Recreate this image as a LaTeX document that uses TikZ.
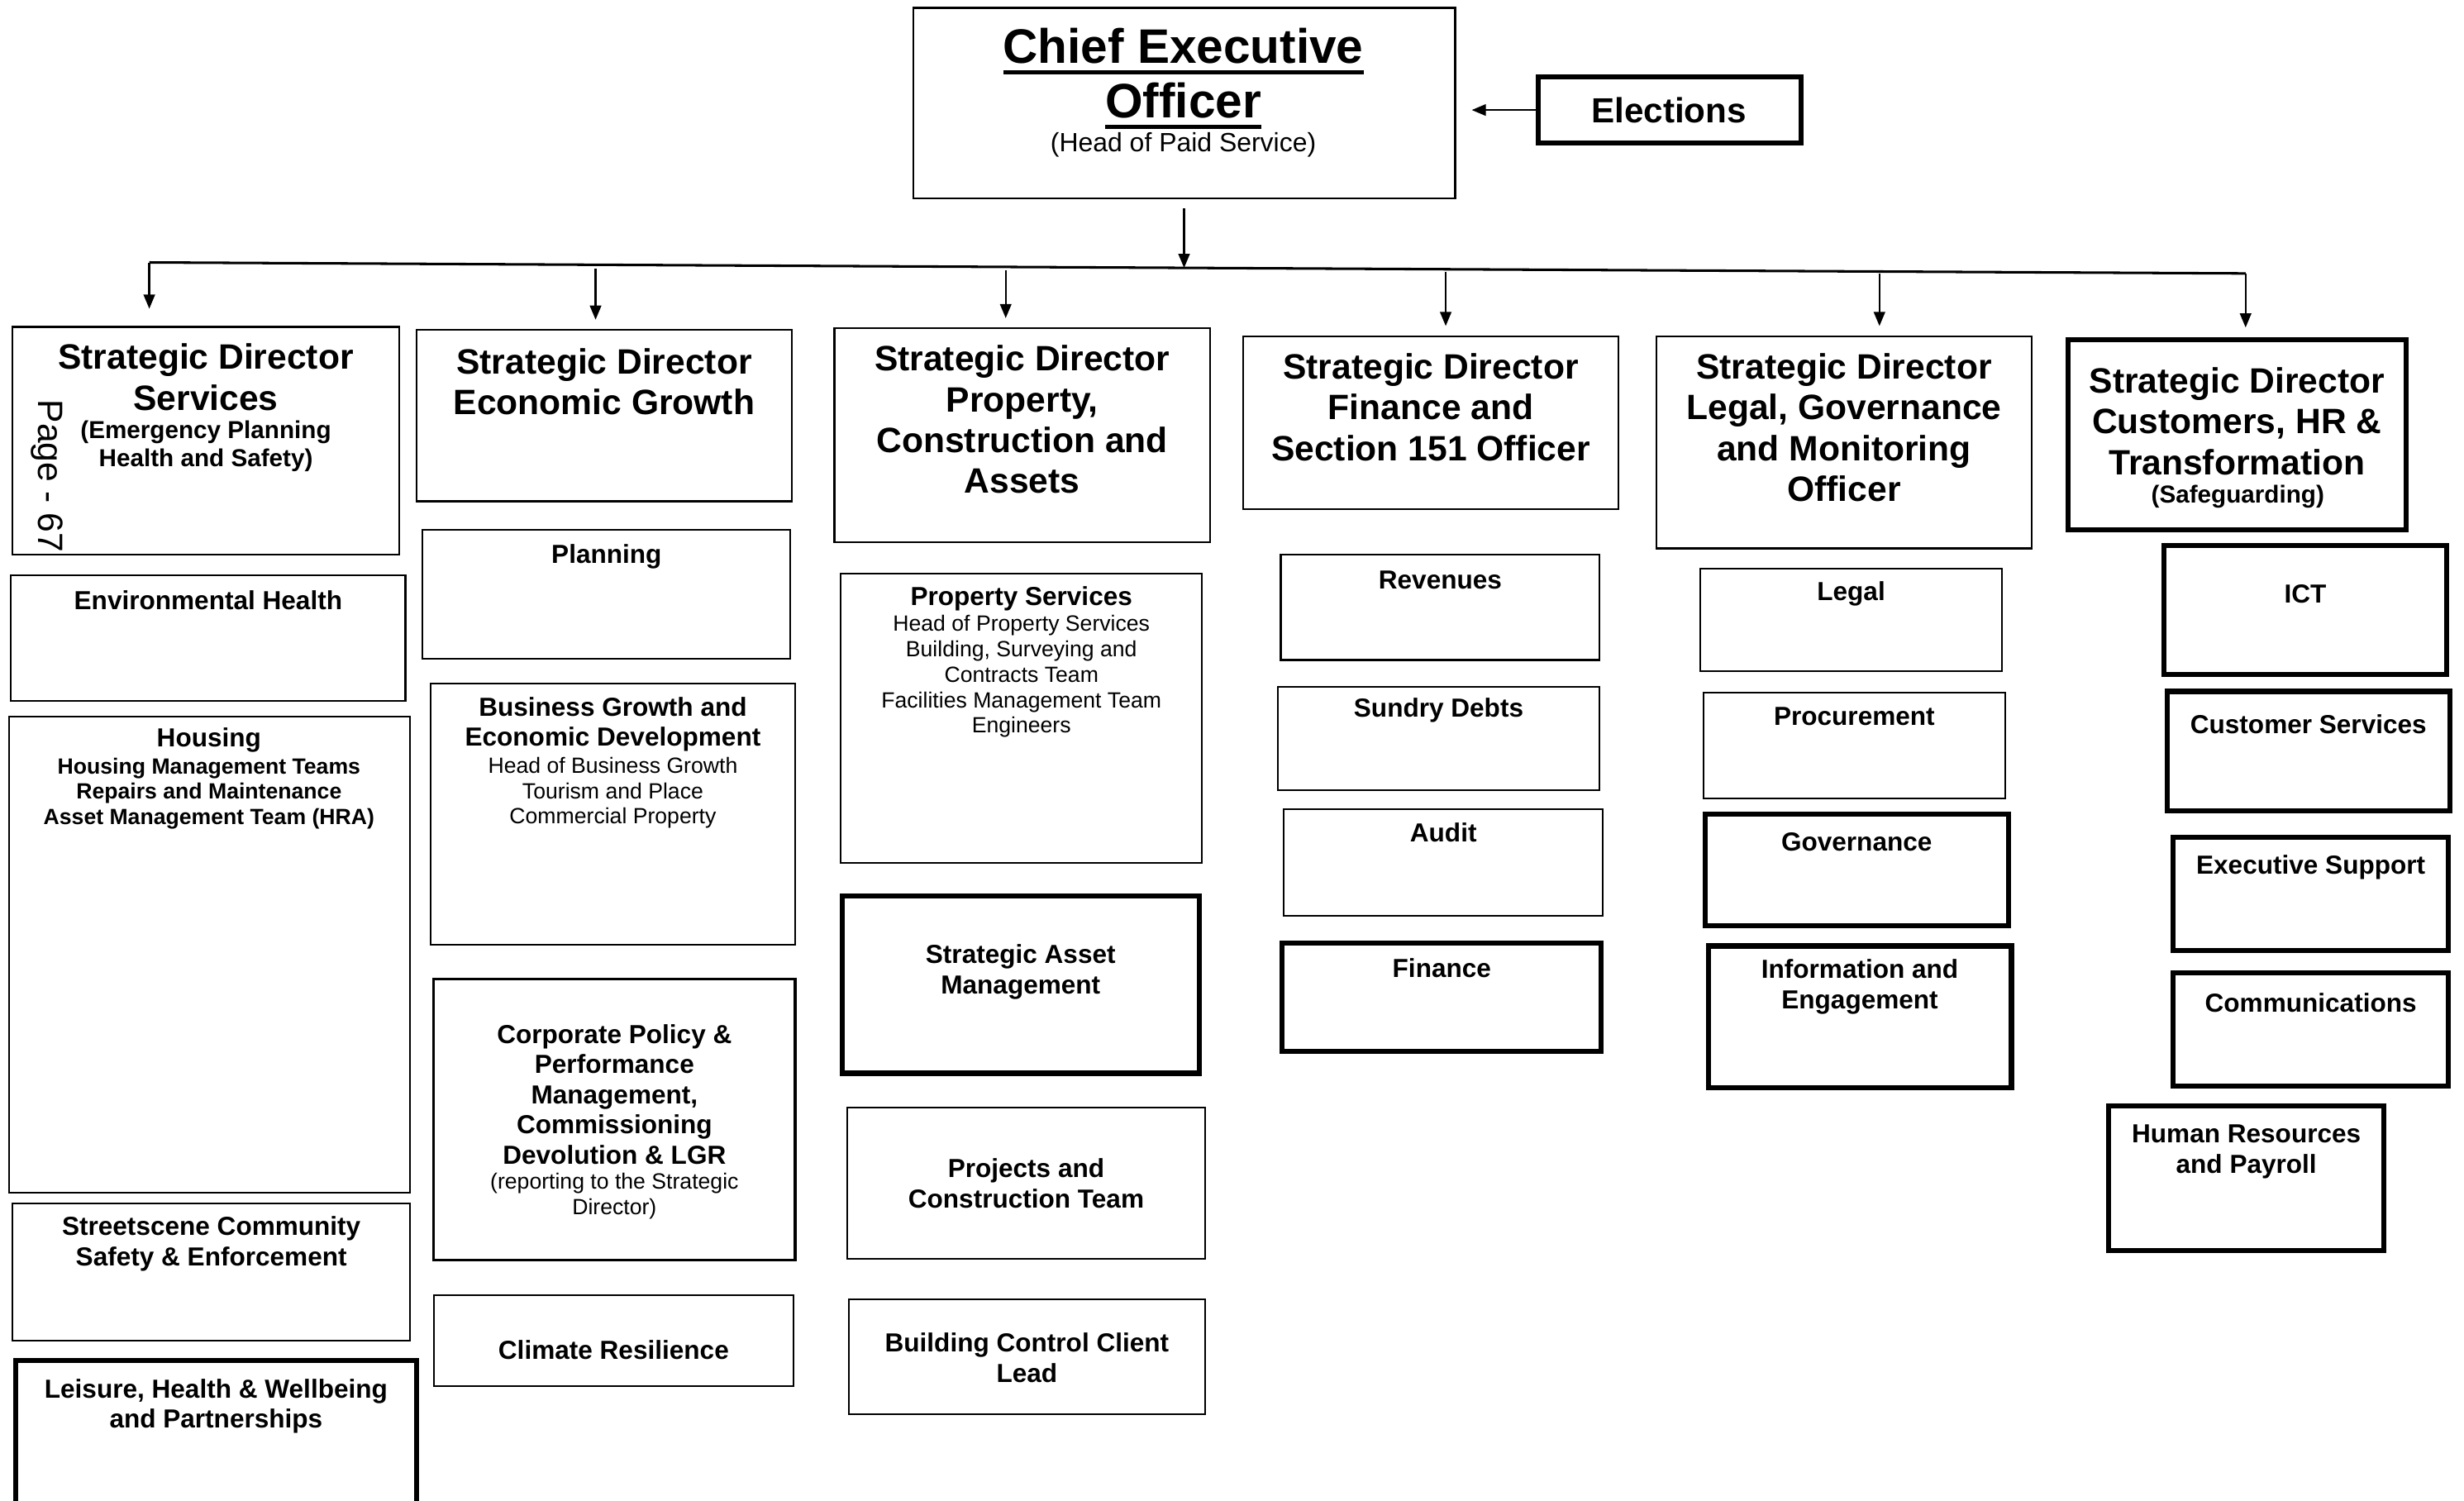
\documentclass[tikz,border=0pt]{standalone}
\usepackage{fontspec}
\setmainfont{Liberation Sans}
\usetikzlibrary{arrows.meta, fit}
\newcommand{\thickul}[1]{\setbox0\hbox{#1}\rlap{\vrule height -2.2pt depth 3.6pt width \wd0}\box0}

\begin{document}
\begin{tikzpicture}[x=0.5pt, y=-0.5pt,
    box/.style={draw, line width=0.55pt, inner sep=0pt},
    mid/.style={box, line width=0.9pt},
    heavy/.style={box, line width=1.6pt},
    arr/.style={line width=0.6pt, -{Triangle[length=4.5pt, width=3.6pt]}},
    ceotxt/.style={font=\bfseries\fontsize{15.4}{17.5}\selectfont, align=center, inner sep=0pt},
    sdtxt/.style={font=\bfseries\fontsize{11.2}{13}\selectfont, align=center, inner sep=0pt},
    unittxt/.style={font=\bfseries\fontsize{8.3}{9.6}\selectfont, align=center, inner sep=0pt},
    notetxt/.style={font=\bfseries\fontsize{7.8}{9}\selectfont, align=center, inner sep=0pt},
    teamtxt/.style={font=\bfseries\fontsize{7}{8}\selectfont, align=center, inner sep=0pt},
    roletxt/.style={font=\fontsize{7}{8.1}\selectfont, align=center, inner sep=0pt}]
  \useasboundingbox (0,0) rectangle (1568,955);

  % top of the chart
  \node[box, fit={(581,5) (926,126)}] (ceo) {};
  \node[ceotxt] (ceo-t) at (753,50) {\thickul{Chief Executive}\\\thickul{Officer}};
  \node[font=\fontsize{8.4}{10}\selectfont, inner sep=0pt] (ceo-s) at (753,92) {(Head of Paid Service)};
  \node[heavy, fit={(979,49) (1146,91)}] (elect) {};
  \node[font=\bfseries\fontsize{11.1}{13}\selectfont, inner sep=0pt] (elect-t) at (1062,70) {Elections};
  \draw[arr, shorten >=5pt] (elect.west) -- (elect.west -| ceo.east);

  % strategic directors
  \foreach \name/\sty/\xa/\ya/\xb/\yb/\ty/\txt in {
      sdserv/box/8/208/254/353/240/{Strategic Director\\Services},
      sdgrowth/box/265/210/504/319/243/{Strategic Director\\Economic Growth},
      sdprop/box/531/209/770/345/267/{Strategic Director\\Property,\\Construction and\\Assets},
      sdfin/box/791/214/1030/324/259/{Strategic Director\\Finance and\\Section 151 Officer},
      sdlegal/box/1054/214/1293/349/272/{Strategic Director\\Legal, Governance\\and Monitoring\\Officer},
      sdcust/heavy/1316/216/1531/337/268/{Strategic Director\\Customers, HR \&\\Transformation}} {
    \node[\sty, fit={(\xa,\ya) (\xb,\yb)}] (\name) {};
    \node[sdtxt] (\name-t) at (\name.north |- 0,\ty) {\txt};
  }
  \node[notetxt] (sdserv-s) at (131,284) {(Emergency Planning\\Health and Safety)};
  \node[notetxt] (sdcust-s) at (1424,316) {(Safeguarding)};
  \node[rotate=-90, font=\fontsize{11.2}{13}\selectfont, inner sep=0pt] (page) at (30,303) {Page - 67};

  % bus from the chief executive
  \coordinate (busL) at (95,167);
  \coordinate (busR) at (1429,174);
  \coordinate (bceo) at (754,170.5);
  \draw[arr, shorten <=3pt] (ceo.south) -- (ceo.south |- bceo);
  \draw[line width=0.8pt] (busL) -- (busR);
  \draw[arr, shorten >=5.5pt] (busL) -- (busL |- sdserv.north);
  \draw[arr, shorten >=3pt] (busR) -- (busR |- sdcust.north);
  \foreach \name/\X/\Y in {sdgrowth/379/171, sdprop/640/172, sdfin/920/173, sdlegal/1196/174} {
    \coordinate (b-\name) at (\X,\Y);
    \draw[arr, shorten >=3pt] (b-\name) -- (b-\name |- \name.north);
  }

  % teams
  \foreach \name/\sty/\xa/\ya/\xb/\yb/\ty/\txt in {
      envh/box/7/366/258/446/382/{Environmental Health},
      street/box/8/766/261/853/791.5/{Streetscene Community\\Safety \& Enforcement},
      leisure/heavy/10/866/265/964/895/{Leisure, Health \& Wellbeing\\and Partnerships},
      planning/box/269/337/503/419/354/{Planning},
      climate/box/276/824/505/882/859/{Climate Resilience},
      asset/heavy/536/570/763/683/618.5/{Strategic Asset\\Management},
      projects/box/539/705/767/801/753/{Projects and\\Construction Team},
      bcontrol/box/540/827/767/900/864/{Building Control Client\\Lead},
      revenues/box/815/353/1018/420/369/{Revenues},
      sundry/box/813/437/1018/503/452/{Sundry Debts},
      audit/box/817/515/1020/583/530/{Audit},
      finance/heavy/816/600/1019/669/616/{Finance},
      legal/box/1082/362/1274/427/378/{Legal},
      procure/box/1084/441/1276/508/456/{Procurement},
      govern/heavy/1085/518/1278/589/536/{Governance},
      infoeng/heavy/1087/602/1280/692/628/{Information and\\Engagement},
      ict/heavy/1377/347/1557/429/378/{ICT},
      custserv/heavy/1379/440/1559/516/461/{Customer Services},
      execsup/heavy/1383/533/1558/605/552/{Executive Support},
      comms/heavy/1383/619/1558/691/638/{Communications},
      hr/heavy/1342/704/1517/796/733/{Human Resources\\and Payroll}} {
    \node[\sty, fit={(\xa,\ya) (\xb,\yb)}] (\name) {};
    \node[unittxt] (\name-t) at (\name.north |- 0,\ty) {\txt};
  }

  % teams with a list of sections
  \node[box, fit={(6,456) (261,759)}] (housing) {};
  \node[unittxt] (housing-t) at (133,471) {Housing};
  \node[teamtxt] (housing-s) at (133,505) {Housing Management Teams\\Repairs and Maintenance\\Asset Management Team (HRA)};

  \node[box, fit={(274,435) (506,601)}] (bizgrowth) {};
  \node[unittxt] (bizgrowth-t) at (390,461) {Business Growth and\\Economic Development};
  \node[roletxt] (bizgrowth-s) at (390,504.5) {Head of Business Growth\\Tourism and Place\\Commercial Property};

  \node[mid, fit={(276,623) (506,802)}] (corppol) {};
  \node[unittxt] (corppol-t) at (391,696.5) {Corporate Policy \&\\Performance\\Management,\\Commissioning\\Devolution \& LGR};
  \node[roletxt] (corppol-s) at (391,761) {(reporting to the Strategic\\Director)};

  \node[box, fit={(535,365) (765,549)}] (propserv) {};
  \node[unittxt] (propserv-t) at (650,381) {Property Services};
  \node[roletxt] (propserv-s) at (650,430.5) {Head of Property Services\\Building, Surveying and\\Contracts Team\\Facilities Management Team\\Engineers};
\end{tikzpicture}
\end{document}
